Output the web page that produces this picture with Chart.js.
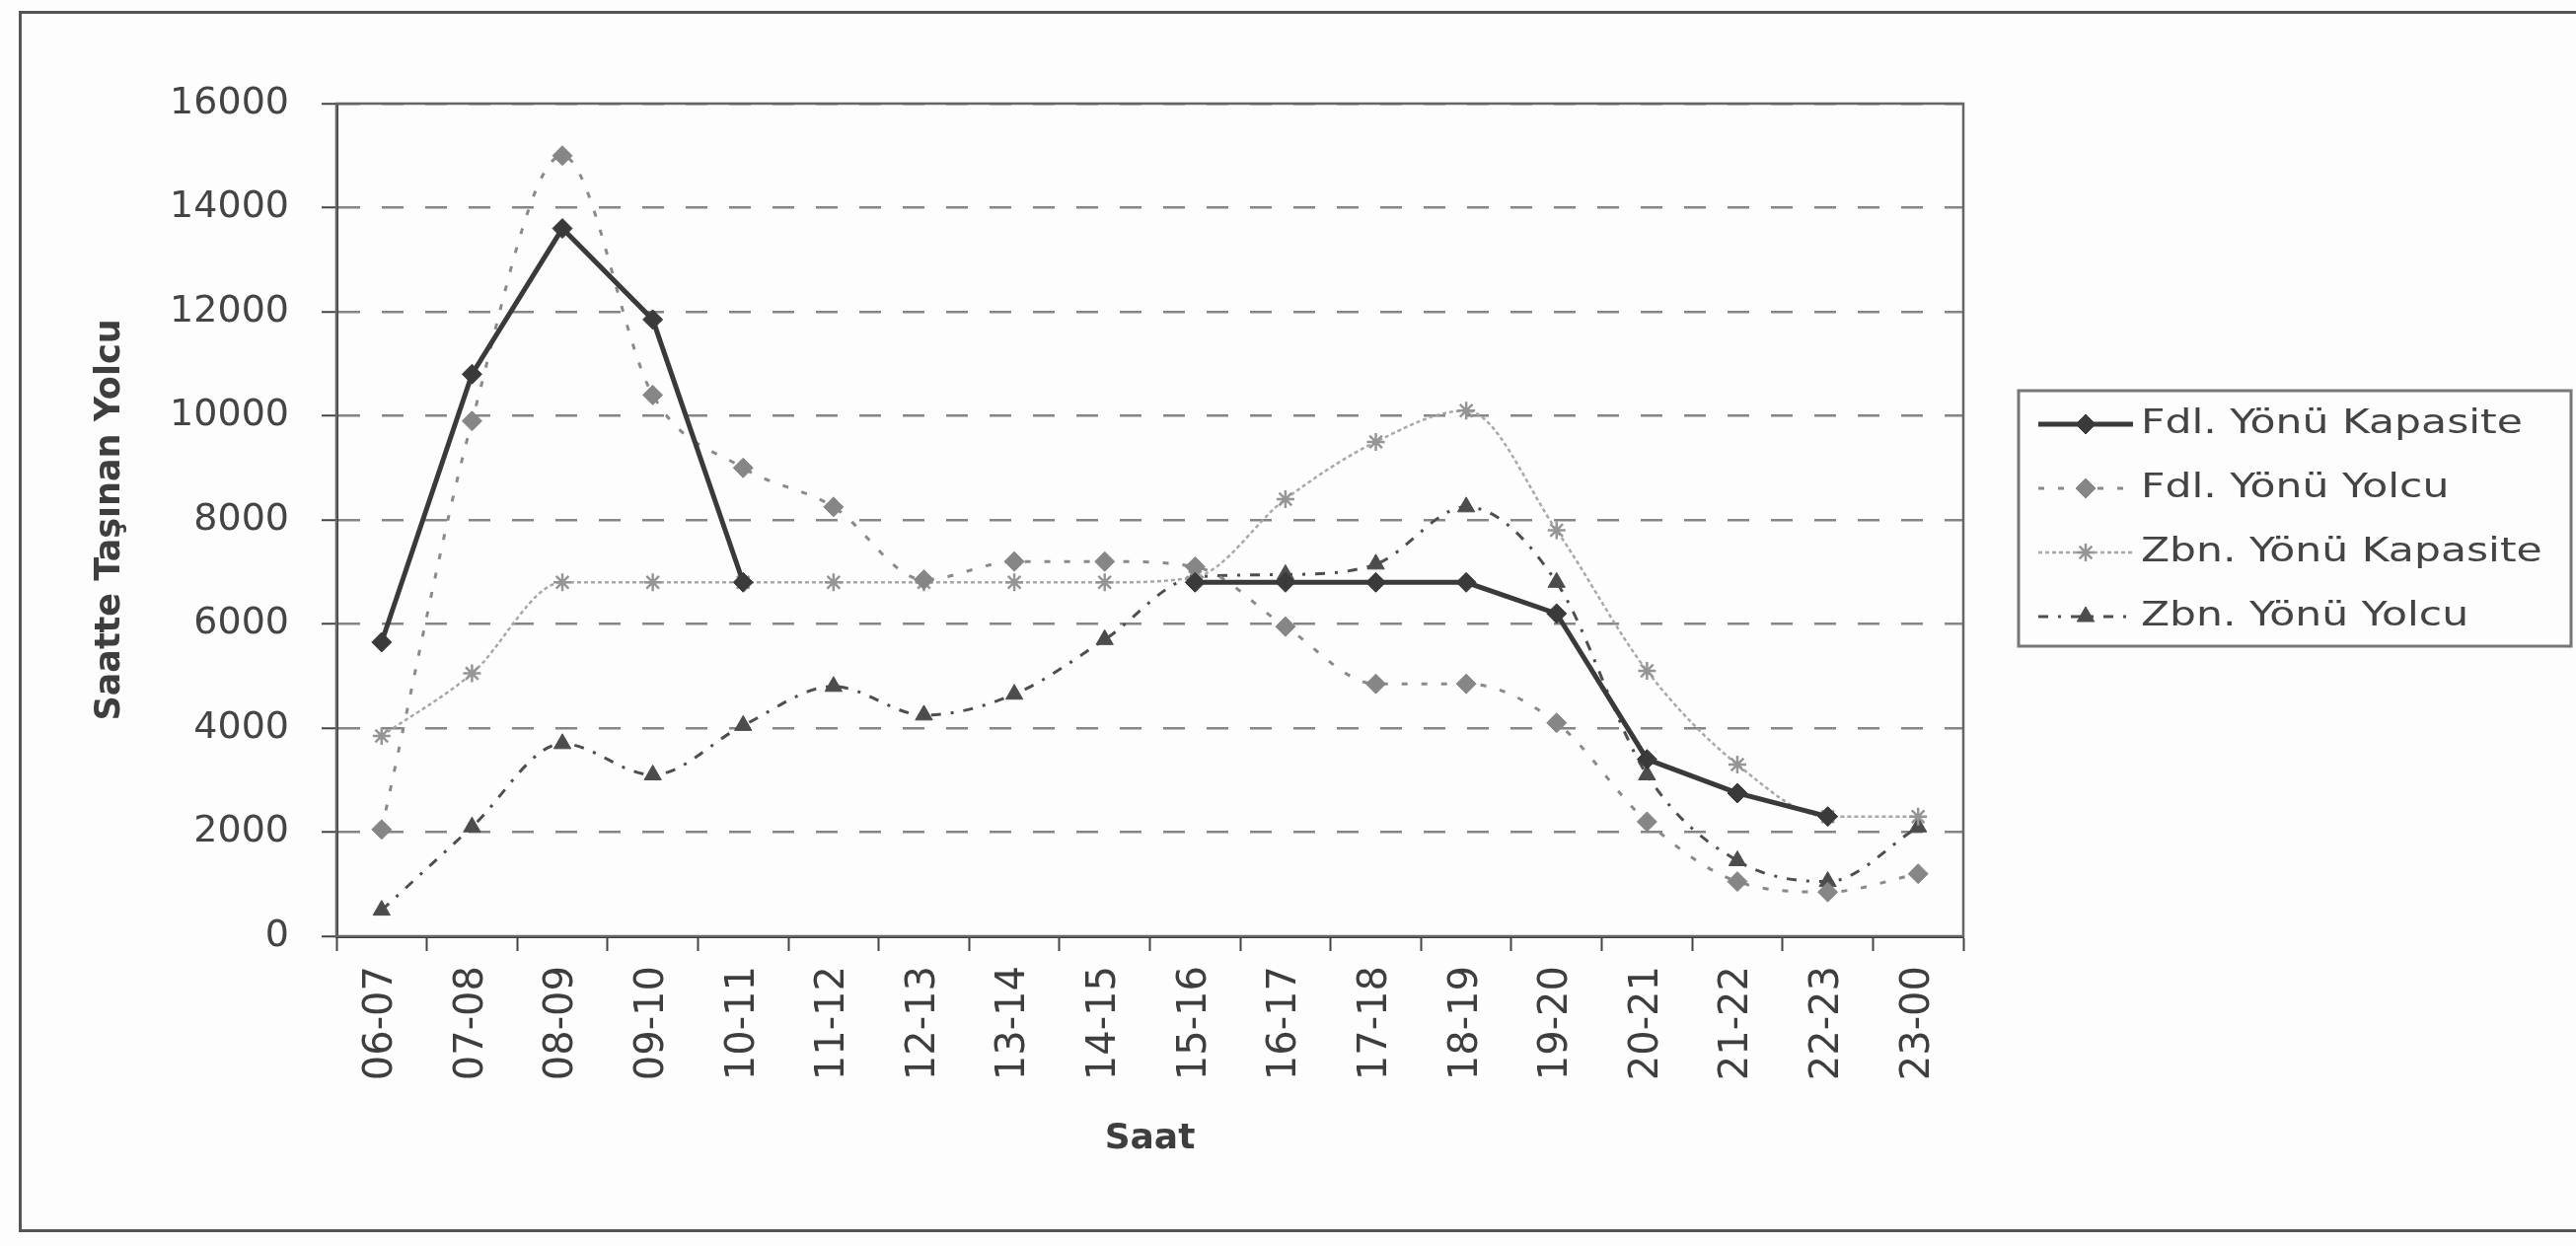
<!DOCTYPE html>
<html>
<head>
<meta charset="utf-8">
<script src="https://cdn.jsdelivr.net/npm/chart.js@4.4.1/dist/chart.umd.min.js"></script>
<style>
  html, body { margin: 0; padding: 0; background: #fdfdfd; overflow: hidden; }
  #frame { position: absolute; left: 19px; top: 11px; width: 2640px; height: 1232px; border: 3px solid #555; }
  #chart { position: absolute; left: 0; top: 0; }
</style>
</head>
<body>
<div id="frame"></div>
<canvas id="chart" width="2611" height="1263"></canvas>
<script>
// saat dilimleri
const saatler = ["06-07", "07-08", "08-09", "09-10", "10-11", "11-12", "12-13", "13-14", "14-15",
  "15-16", "16-17", "17-18", "18-19", "19-20", "20-21", "21-22", "22-23", "23-00"];

const fdlKapasite = [5650, 10800, 13600, 11850, 6800, null, null, null, null,
  6800, 6800, 6800, 6800, 6200, 3400, 2750, 2300, null];
const fdlYolcu = [2050, 9900, 15000, 10400, 9000, 8250, 6850, 7200, 7200,
  7100, 5950, 4850, 4850, 4100, 2200, 1050, 850, 1200];
const zbnKapasite = [3850, 5050, 6800, 6800, 6800, 6800, 6800, 6800, 6800,
  6900, 8400, 9500, 10100, 7800, 5100, 3300, 2300, 2300];
const zbnYolcu = [500, 2100, 3700, 3100, 4050, 4800, 4250, 4650, 5700,
  6900, 6950, 7150, 8250, 6800, 3100, 1450, 1050, 2100];

const yTicks = [0, 2000, 4000, 6000, 8000, 10000, 12000, 14000, 16000];

// legend drawn by hand so the sample shows line + marker
const sideLegend = {
  id: "sideLegend",
  afterDraw(chart) {
    const ctx = chart.ctx;
    ctx.save();
    ctx.strokeStyle = "#777";
    ctx.lineWidth = 3;
    ctx.strokeRect(2046, 396, 560, 259);
    chart.data.datasets.forEach((ds, i) => {
      const y = 430 + i * 65;
      ctx.strokeStyle = ds.borderColor;
      ctx.lineWidth = ds.borderWidth;
      ctx.setLineDash(ds.borderDash || []);
      ctx.beginPath();
      ctx.moveTo(2066, y);
      ctx.lineTo(2162, y);
      ctx.stroke();
      ctx.setLineDash([]);
      ctx.fillStyle = ds.pointBackgroundColor;
      ctx.strokeStyle = ds.pointBorderColor;
      ctx.lineWidth = ds.pointBorderWidth;
      Chart.helpers.drawPoint(ctx, {
        pointStyle: ds.pointStyle, radius: ds.pointRadius,
        borderWidth: ds.pointBorderWidth, rotation: 0
      }, 2114, y);
      ctx.save();
      ctx.translate(2170, y);
      ctx.scale(1.25, 1);
      ctx.fillStyle = "#444";
      ctx.font = '34px "DejaVu Sans"';
      ctx.textBaseline = "middle";
      ctx.fillText(ds.label, 0, 0);
      ctx.restore();
    });
    ctx.restore();
  }
};

// box round the plot area
const plotBox = {
  id: "plotBox",
  beforeDatasetsDraw(chart) {
    const a = chart.chartArea;
    const ctx = chart.ctx;
    ctx.save();
    ctx.strokeStyle = "#666";
    ctx.lineWidth = 2.5;
    ctx.strokeRect(a.left, a.top, a.right - a.left, a.bottom - a.top);
    ctx.restore();
  }
};

const ctx = document.getElementById("chart").getContext("2d");

new Chart(ctx, {
  type: "line",
  data: {
    labels: saatler,
    datasets: [
      {
        label: "Fdl. Yönü Kapasite",
        data: fdlKapasite,
        borderColor: "#3a3a3a",
        borderWidth: 5,
        borderDash: [],
        pointStyle: "rectRot",
        pointRadius: 10,
        pointBackgroundColor: "#3a3a3a",
        pointBorderColor: "#3a3a3a",
        pointBorderWidth: 1,
        tension: 0,
        spanGaps: false,
      },
      {
        label: "Fdl. Yönü Yolcu",
        data: fdlYolcu,
        borderColor: "#8a8a8a",
        borderWidth: 3,
        borderDash: [6, 14],
        pointStyle: "rectRot",
        pointRadius: 10,
        pointBackgroundColor: "#868686",
        pointBorderColor: "#868686",
        pointBorderWidth: 1,
        cubicInterpolationMode: "monotone",
      },
      {
        label: "Zbn. Yönü Kapasite",
        data: zbnKapasite,
        borderColor: "#a8a8a8",
        borderWidth: 2.5,
        borderDash: [4, 3],
        pointStyle: "star",
        pointRadius: 9,
        pointBackgroundColor: "#959595",
        pointBorderColor: "#959595",
        pointBorderWidth: 2.5,
        cubicInterpolationMode: "monotone",
      },
      {
        label: "Zbn. Yönü Yolcu",
        data: zbnYolcu,
        borderColor: "#4e4e4e",
        borderWidth: 3,
        borderDash: [10, 10, 3, 10],
        pointStyle: "triangle",
        pointRadius: 10,
        pointBackgroundColor: "#4c4c4c",
        pointBorderColor: "#4c4c4c",
        pointBorderWidth: 1,
        cubicInterpolationMode: "monotone",
      },
    ],
  },
  options: {
    responsive: false,
    animation: false,
    devicePixelRatio: 1,
    layout: { padding: { left: 0, top: 105, right: 621, bottom: 0 } },
    plugins: { legend: { display: false }, tooltip: { enabled: false } },
    scales: {
      x: {
        offset: true,
        afterFit: (s) => { s.height = 314; },
        grid: { drawOnChartArea: false, offset: true, tickLength: 15, tickColor: "#444", tickWidth: 2 },
        border: { color: "#333", width: 3 },
        ticks: {
          autoSkip: false, minRotation: 90, maxRotation: 90, padding: 15,
          color: "#3e3e3e", font: { family: "DejaVu Sans", size: 40 },
        },
        title: {
          display: true, text: "Saat", color: "#3e3e3e",
          font: { family: "DejaVu Sans", size: 36, weight: "bold" },
          padding: { top: 0, bottom: 87 },
        },
      },
      y: {
        min: 0,
        max: 16000,
        afterFit: (s) => { s.width = 341; },
        afterBuildTicks: (s) => { s.ticks = yTicks.map((v) => ({ value: v })); },
        grid: {
          color: "#858585", lineWidth: 2.5, tickLength: 15, tickColor: "#444",
          tickWidth: 2, tickBorderDash: [],
        },
        border: { color: "#333", width: 3, dash: [22, 22] },
        ticks: {
          padding: 33, color: "#444",
          font: { family: "DejaVu Sans", size: 38 },
          callback: (v) => String(v),
        },
        title: {
          display: true, text: "Saatte Taşınan Yolcu", color: "#3e3e3e",
          font: { family: "DejaVu Sans", size: 35, weight: "bold" },
          padding: { top: 91, bottom: 0 },
        },
      },
    },
  },
  plugins: [plotBox, sideLegend],
});
</script>
</body>
</html>
